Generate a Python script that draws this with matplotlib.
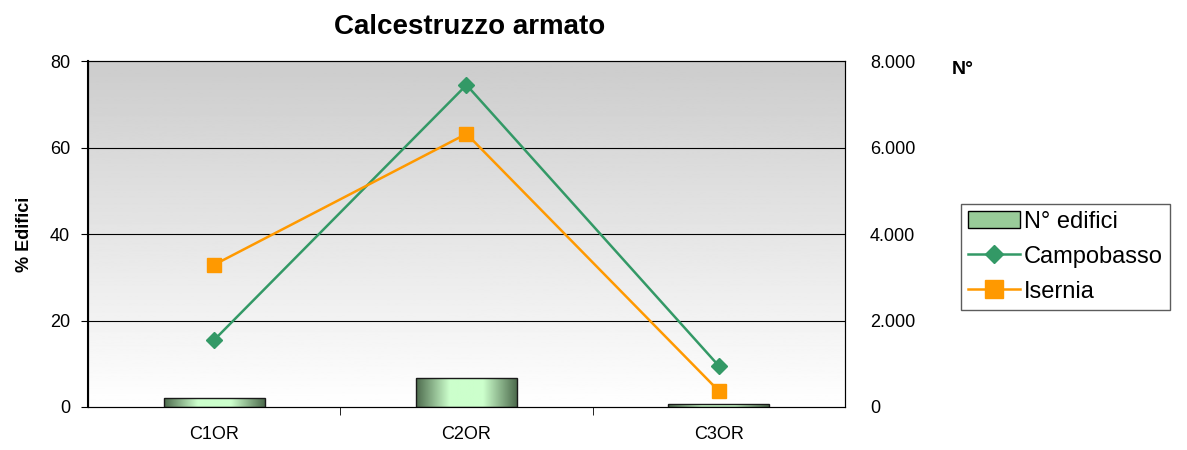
import numpy as np
import matplotlib
matplotlib.use('Agg')
from matplotlib import pyplot as plt
from matplotlib.colors import LinearSegmentedColormap
from matplotlib.patches import Patch
from matplotlib.lines import Line2D
from matplotlib.ticker import FuncFormatter

plt.rcParams['font.family'] = ['Liberation Sans', 'DejaVu Sans']

categories = ['C1OR', 'C2OR', 'C3OR']
n_edifici = [200, 680, 70]
campobasso = [15.5, 74.5, 9.5]
isernia = [32.9, 63.2, 3.7]

fig = plt.figure(figsize=(11.87, 4.5), dpi=100)
ax2 = fig.add_axes([0.0741, 0.0956, 0.6378, 0.7684])
ax = ax2.twinx()
ax.yaxis.tick_left()
ax.yaxis.set_label_position('left')
ax2.yaxis.tick_right()
ax2.yaxis.set_label_position('right')

x = np.arange(len(categories))
ax2.set_xlim(-0.5, 2.5)
ax2.set_ylim(0, 8000)
ax.set_ylim(0, 80)

# background gradient, gray at the top fading to white
bg = np.linspace(1.0, 0.8, 256).reshape(-1, 1)
ax2.imshow(bg, extent=[-0.5, 2.5, 0, 8000], origin='lower', aspect='auto',
           cmap='gray', vmin=0, vmax=1, zorder=0)

for v in [2000, 4000, 6000]:
    ax2.axhline(v, color='black', lw=0.8, zorder=1)

# bars with horizontal green gradient
bar_cmap = LinearSegmentedColormap.from_list('bar', ['#4d6b4d', '#ccffcc', '#ccffcc', '#4d6b4d'])
grad = np.linspace(0, 1, 256).reshape(1, -1)
width = 0.4
bars = ax2.bar(x, n_edifici, width=width, facecolor='none', edgecolor='#1a1a1a', lw=1, zorder=3)
for b in bars:
    x0, y0 = b.get_x(), b.get_y()
    im = ax2.imshow(grad, extent=[x0, x0 + b.get_width(), y0, y0 + b.get_height()],
                    aspect='auto', cmap=bar_cmap, zorder=2)
    im.set_clip_path(b)

ax.plot(x, campobasso, color='#339966', lw=1.8, marker='D', ms=8, zorder=4)
ax.plot(x, isernia, color='#FF9900', lw=1.8, marker='s', ms=10, zorder=4)

ax.set_zorder(ax2.get_zorder() + 1)
ax.patch.set_visible(False)

ax.set_yticks([0, 20, 40, 60, 80])
ax2.set_yticks([0, 2000, 4000, 6000, 8000])
ax2.yaxis.set_major_formatter(FuncFormatter(lambda v, p: '0' if v == 0 else '{:.3f}'.format(v / 1000)))
ax.tick_params(axis='y', labelsize=13, length=5, direction='out', pad=8)
ax2.tick_params(axis='y', labelsize=13, length=0, pad=18)

ax2.set_xticks(x)
ax2.set_xticklabels(categories)
ax2.set_xticks([0.5, 1.5], minor=True)
ax2.tick_params(axis='x', which='major', length=0, labelsize=13, pad=14)
ax2.tick_params(axis='x', which='minor', length=6, direction='out')

for s in ['left', 'top']:
    ax2.spines[s].set_color('black')
for s in ['right', 'bottom']:
    ax2.spines[s].set_color('#333333')
ax.spines['left'].set_linewidth(1.5)

ax.set_ylabel('% Edifici', fontsize=13, fontweight='bold', labelpad=12)
fig.text(0.802, 0.845, 'N°', fontsize=14, fontweight='bold', ha='left', va='center')
fig.text(0.396, 0.94, 'Calcestruzzo armato', fontsize=20, fontweight='bold', ha='center', va='center')

handles = [
    Patch(facecolor='#99cc99', edgecolor='black', label='N° edifici'),
    Line2D([], [], color='#339966', lw=1.8, marker='D', ms=9, label='Campobasso'),
    Line2D([], [], color='#FF9900', lw=1.8, marker='s', ms=13, label='Isernia'),
]
leg = fig.legend(handles=handles, loc='upper left', bbox_to_anchor=(0.800, 0.574),
                 fontsize=17, frameon=True, fancybox=False, edgecolor='#333333',
                 borderpad=0.3, handlelength=2.2, handletextpad=0.15, labelspacing=0.55)
leg.get_frame().set_linewidth(1)

fig.savefig('out.png', dpi=100)
